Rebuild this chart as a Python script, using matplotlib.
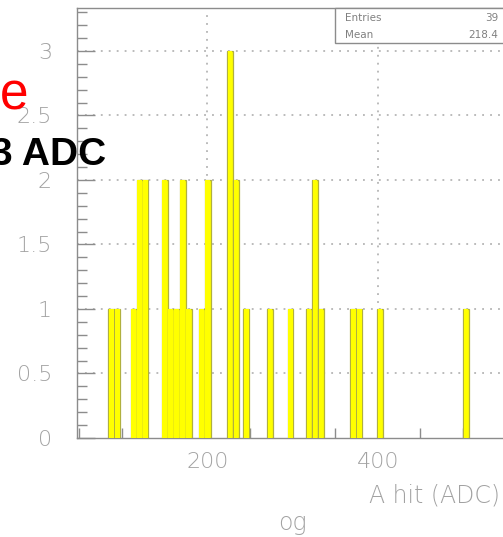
"""
ADC spectrum of single hits, drawn in the ROOT-like style
"""
import numpy as np
import matplotlib
matplotlib.use("Agg")
import matplotlib.pyplot as plt
from matplotlib.patches import Rectangle
from matplotlib.ticker import MultipleLocator

FIGURE_SIZE = (5.03, 5.37)
GREY = "#a2a2a2"
AXIS_GREY = "#8c8c8c"

# histogram contents: bin centres (ADC) and counts
bin_centers = [87.5, 94.5, 113.5, 120.5, 127.5,
               150, 157, 164, 171, 178,
               193.5, 200.5, 226.5, 233.5, 246, 273.6, 297.7,
               319.5, 326.5, 333.5, 371.5, 378.5, 402.7, 503.7]
bin_counts = [1, 1, 1, 2, 2,
              2, 1, 1, 2, 1,
              1, 2, 3, 2, 1, 1, 1,
              1, 2, 1, 1, 1, 1, 1]
BIN_WIDTH = 7.0

x_ticks = [200, 400]
y_ticks = [0, 0.5, 1, 1.5, 2, 2.5, 3]
y_tick_labels = ["0", "0.5", "1", "1.5", "2", "2.5", "3"]

stats_names = ["Entries", "Mean"]
stats_values = ["39", "218.4"]

fig = plt.figure(figsize=FIGURE_SIZE, dpi=100)
W, H = 503.0, 537.0
ax = fig.add_axes([77 / W, (H - 438) / H, 1 - 77 / W, 430 / H])

# fill first, outline on top so adjacent bins merge visually
ax.bar(bin_centers, bin_counts, width=BIN_WIDTH, color="#ffff00",
       edgecolor="none", linewidth=0, zorder=3)
ax.bar(bin_centers, bin_counts, width=BIN_WIDTH, fill=False,
       edgecolor="#b0b040", linewidth=0.9, zorder=3)
ax.bar(bin_centers, bin_counts, width=BIN_WIDTH - 1.6, color="#ffff00",
       edgecolor="none", linewidth=0, zorder=3)

ax.set_xlim(47.1, 547.1)
ax.set_ylim(0, 3.333)

# dotted grid
for y in y_ticks[1:]:
    ax.axhline(y, color="#a8a8a8", lw=1.1, ls=(0, (1.2, 4)), zorder=1)
for x in x_ticks:
    ax.axvline(x, color="#a8a8a8", lw=1.1, ls=(0, (1.2, 4)), zorder=1)

for side in ["left", "bottom", "top"]:
    ax.spines[side].set_color(AXIS_GREY)
    ax.spines[side].set_linewidth(1.0)
ax.spines["right"].set_visible(False)

ax.set_yticks(y_ticks)
ax.set_yticklabels(y_tick_labels)
ax.yaxis.set_minor_locator(MultipleLocator(0.1))
ax.set_xticks(x_ticks)
ax.xaxis.set_minor_locator(MultipleLocator(50))

ax.tick_params(axis="y", which="major", direction="in", length=13, width=1,
               color=AXIS_GREY, labelcolor=GREY, labelsize=16, pad=18)
ax.tick_params(axis="y", which="minor", direction="in", length=7, width=1,
               color=AXIS_GREY)
ax.tick_params(axis="x", which="major", direction="in", length=13, width=1,
               color=AXIS_GREY, labelcolor=GREY, labelsize=16, pad=10)
ax.tick_params(axis="x", which="minor", direction="in", length=7, width=1,
               color=AXIS_GREY)
for lab in ax.get_xticklabels() + ax.get_yticklabels():
    lab.set_fontweight("light")

# axis title and stray caption text
fig.text(500 / W, (H - 503) / H, "A hit (ADC)", ha="right", va="baseline",
         fontsize=17, color=GREY, fontweight="light")
fig.text(292 / W, (H - 530) / H, "og", ha="center", va="baseline",
         fontsize=17, color=GREY, fontweight="light")

# statistics box
fig.patches.append(Rectangle((335 / W, (H - 43) / H), 0.5, 35 / H,
                             transform=fig.transFigure, facecolor="white",
                             edgecolor=AXIS_GREY, lw=1.0, zorder=5))
for i, (name, val) in enumerate(zip(stats_names, stats_values)):
    yy = (H - (18 + 17 * i)) / H
    fig.text(345 / W, yy, name, ha="left", va="center", fontsize=7.5,
             color="#808080", zorder=6)
    fig.text(498 / W, yy, val, ha="right", va="center", fontsize=7.5,
             color="#808080", zorder=6)

# overlaid annotations
fig.text(28 / W, (H - 109) / H, "e", ha="right", va="baseline",
         fontsize=37, color="red", family="Liberation Sans", zorder=10)
fig.text(106 / W, (H - 165) / H, "3 ADC", ha="right", va="baseline",
         fontsize=28, color="black", family="Liberation Sans",
         fontweight="bold", zorder=10)

fig.savefig("out.png", dpi=100)
